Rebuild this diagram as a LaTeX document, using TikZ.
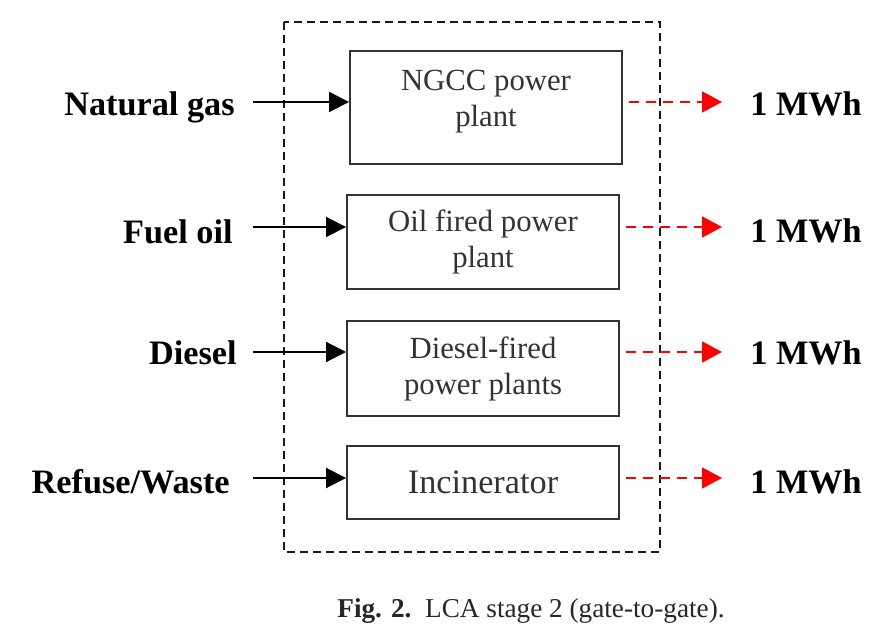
\documentclass[tikz,border=0pt]{standalone}
\usepackage{fontspec}
\setmainfont{Liberation Serif}
\usetikzlibrary{arrows.meta}
\begin{document}
\begin{tikzpicture}
\useasboundingbox (0,0) rectangle (17.7,-12.74);
\tikzset{plant/.style={draw=black!80,line width=1.1pt,minimum width=5.44cm,align=center,text=black!80,font=\fontsize{17.5}{20.5}\selectfont}};
\tikzset{fuel/.style={anchor=base east,inner sep=0pt,font=\fontsize{19.5}{22}\selectfont\bfseries}};
\tikzset{mwh/.style={anchor=base west,inner sep=0pt,font=\fontsize{19.5}{22}\selectfont\bfseries}};

\draw[black!90,line width=1.2pt,dash pattern=on 0.16cm off 0.1cm] (5.68,-0.44) rectangle (13.2,-11.04);

\node[plant,minimum height=2.26cm] (ngcc) at (9.72,-2.15) {NGCC power\\plant\\[-10pt]};
\node[plant,minimum height=1.88cm] (oil) at (9.66,-4.84) {Oil fired power\\plant};
\node[plant,minimum height=1.9cm] (diesel) at (9.66,-7.37) {Diesel-fired\\power plants};
\node[plant,minimum height=1.46cm,font=\fontsize{19.5}{22}\selectfont] (incin) at (9.66,-9.65) {Incinerator};

\node[fuel] (gas) at (4.7,-2.32) {Natural gas};
\node[fuel] (fo) at (4.66,-4.88) {Fuel oil};
\node[fuel] (ds) at (4.74,-7.30) {Diesel};
\node[fuel] (rw) at (4.6,-9.86) {Refuse/Waste};

\node[mwh] (mwhA) at (15.0,-2.32) {1 MWh};
\node[mwh] (mwhB) at (15.0,-4.86) {1 MWh};
\node[mwh] (mwhC) at (15.0,-7.30) {1 MWh};
\node[mwh] (mwhD) at (15.0,-9.86) {1 MWh};

\coordinate (inA) at (5.06,-2.04);
\coordinate (inB) at (5.06,-4.54);
\coordinate (inC) at (5.06,-7.04);
\coordinate (inD) at (5.06,-9.56);

\tikzset{feed/.style={-{Triangle[length=0.4cm,width=0.4cm]},line width=1.1pt}};
\path (inA) edge [feed] (inA -| ngcc.west);
\path (inB) edge [feed] (inB -| oil.west);
\path (inC) edge [feed] (inC -| diesel.west);
\path (inD) edge [feed] (inD -| incin.west);
\tikzset{feed/.style={-{Triangle[length=0.4cm,width=0.42cm]},red,line width=1pt,dash pattern=on 0.2cm off 0.14cm,shorten <=0.12cm,shorten >=0.56cm}};
\path (inA -| ngcc.east) edge [feed] (inA -| mwhA.west);
\path (inB -| oil.east) edge [feed] (inB -| mwhB.west);
\path (inC -| diesel.east) edge [feed] (inC -| mwhC.west);
\path (inD -| incin.east) edge [feed] (inD -| mwhD.west);

\node[anchor=base,text=black!85,font=\fontsize{15.5}{18}\selectfont] (cap) at (10.62,-12.34) {\textbf{Fig. 2.}\enspace LCA stage 2 (gate-to-gate).};
\end{tikzpicture}
\end{document}
